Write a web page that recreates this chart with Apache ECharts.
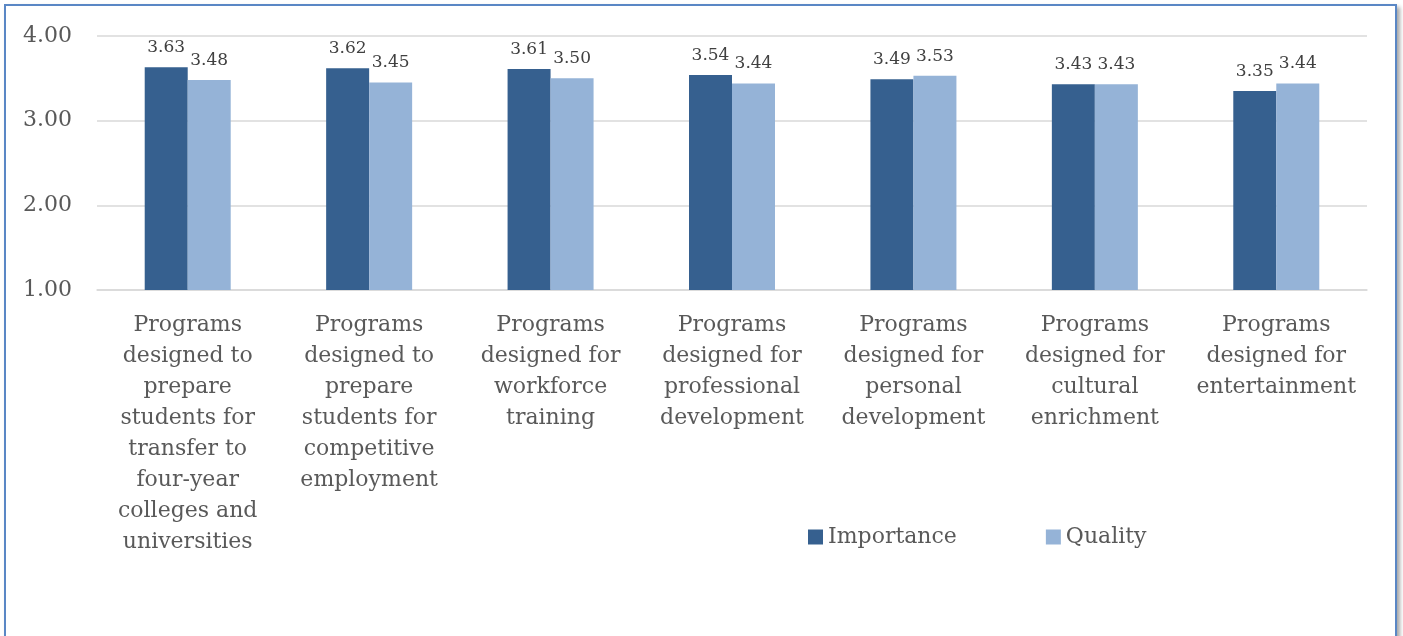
<!DOCTYPE html>
<html><head><meta charset="utf-8">
<script src="https://cdn.jsdelivr.net/npm/echarts@6/dist/echarts.min.js"></script>
<style>
html,body{margin:0;padding:0;background:#fff;width:1403px;height:636px;overflow:hidden;}
#frame{position:absolute;left:4px;top:4px;width:1389px;height:700px;border:2px solid #5a87c5;box-shadow:3px 3px 4px rgba(0,0,0,0.35);background:#fff;}
#chart{position:absolute;left:0;top:0;width:1403px;height:636px;}
</style></head>
<body><div id="frame"></div><div id="chart"></div>
<script>
const categories = [
  "Programs\ndesigned to\nprepare\nstudents for\ntransfer to\nfour-year\ncolleges and\nuniversities",
  "Programs\ndesigned to\nprepare\nstudents for\ncompetitive\nemployment",
  "Programs\ndesigned for\nworkforce\ntraining",
  "Programs\ndesigned for\nprofessional\ndevelopment",
  "Programs\ndesigned for\npersonal\ndevelopment",
  "Programs\ndesigned for\ncultural\nenrichment",
  "Programs\ndesigned for\nentertainment"
];
const importance = [3.63, 3.62, 3.61, 3.54, 3.49, 3.43, 3.35];
const quality = [3.48, 3.45, 3.50, 3.44, 3.53, 3.43, 3.44];
const yTicks = {min: 1, max: 4, interval: 1};

const FONT = "DejaVu Serif";
const chart = echarts.init(document.getElementById('chart'), null, {renderer:'canvas'});
const labelCfg = {show:true, position:'top', distance:11, fontFamily:FONT, fontSize:17, color:'#404040', formatter: p => p.value.toFixed(2)};
chart.setOption({
  backgroundColor:'transparent',
  animation:false,
  grid:{left:97, right:36, top:36, bottom:346, containLabel:false},
  legend:{
    data:['Importance','Quality'], left:808, top:526, padding:0, itemWidth:15, itemHeight:15, itemGap:89,
    icon:'rect',
    textStyle:{fontFamily:FONT, fontSize:22, color:'#595959'}
  },
  xAxis:{
    type:'category', data:categories,
    axisLine:{lineStyle:{color:'#d9d9d9', width:1.5}},
    axisTick:{show:false},
    axisLabel:{fontFamily:FONT, fontSize:22, lineHeight:31, color:'#595959', margin:20, interval:0}
  },
  yAxis:{
    type:'value', min:yTicks.min, max:yTicks.max, interval:yTicks.interval,
    axisLine:{show:false}, axisTick:{show:false},
    axisLabel:{fontFamily:FONT, fontSize:22, color:'#595959', margin:25, formatter: v => v.toFixed(2)},
    splitLine:{lineStyle:{color:'#d9d9d9', width:1.5}}
  },
  series:[
    {name:'Importance', type:'bar', data:importance, barWidth:43, barGap:'0%', itemStyle:{color:'#36608f'}, label:labelCfg},
    {name:'Quality', type:'bar', data:quality, barWidth:43, barGap:'0%', itemStyle:{color:'#95b3d7'}, label:labelCfg}
  ]
});
</script></body></html>
